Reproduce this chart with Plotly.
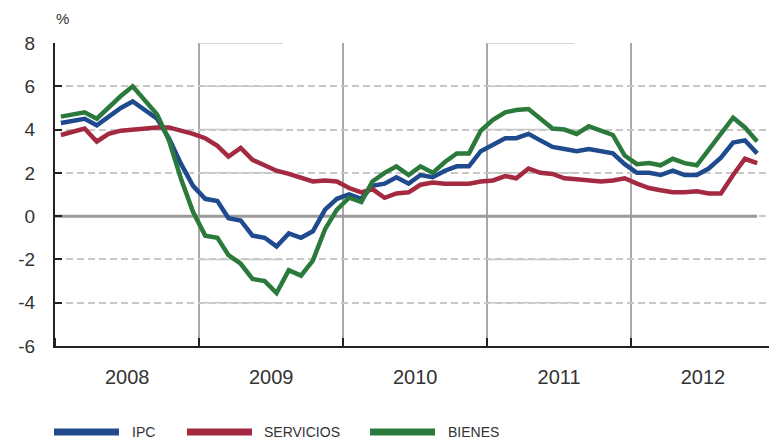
import pandas as pd
import plotly.graph_objects as go

# monthly observations, Jan 2008 - Nov 2012 (plotted mid-month)
months = pd.date_range("2008-01-01", periods=59, freq="MS") + pd.Timedelta(days=15)

ipc = [
    4.3, 4.4, 4.5, 4.2, 4.6, 5.0, 5.3, 4.9, 4.5, 3.6, 2.4, 1.4,
    0.8, 0.7, -0.1, -0.2, -0.9, -1.0, -1.4, -0.8, -1.0, -0.7, 0.3, 0.8,
    1.0, 0.8, 1.4, 1.5, 1.8, 1.5, 1.9, 1.8, 2.1, 2.3, 2.3, 3.0,
    3.3, 3.6, 3.6, 3.8, 3.5, 3.2, 3.1, 3.0, 3.1, 3.0, 2.9, 2.4,
    2.0, 2.0, 1.9, 2.1, 1.9, 1.9, 2.2, 2.7, 3.4, 3.5, 2.9,
]
servicios = [
    3.75, 3.9, 4.05, 3.45, 3.8, 3.95, 4.0, 4.05, 4.1, 4.1, 3.95, 3.8,
    3.6, 3.25, 2.75, 3.15, 2.6, 2.35, 2.1, 1.95, 1.75, 1.6, 1.65, 1.6,
    1.3, 1.1, 1.25, 0.85, 1.05, 1.1, 1.45, 1.55, 1.5, 1.5, 1.5, 1.6,
    1.65, 1.85, 1.75, 2.2, 2.0, 1.95, 1.75, 1.7, 1.65, 1.6, 1.65, 1.75,
    1.5, 1.3, 1.2, 1.1, 1.1, 1.15, 1.05, 1.05, 1.9, 2.65, 2.45,
]
bienes = [
    4.6, 4.7, 4.8, 4.5, 5.05, 5.55, 6.0, 5.35, 4.7, 3.5, 1.7, 0.2,
    -0.9, -1.0, -1.8, -2.2, -2.9, -3.0, -3.55, -2.5, -2.75, -2.05, -0.6, 0.3,
    0.85, 0.65, 1.6, 2.0, 2.3, 1.9, 2.3, 2.0, 2.5, 2.9, 2.9, 3.95,
    4.45, 4.8, 4.9, 4.95, 4.5, 4.05, 4.0, 3.8, 4.15, 3.95, 3.75, 2.8,
    2.4, 2.45, 2.35, 2.65, 2.45, 2.35, 3.05, 3.8, 4.55, 4.1, 3.45,
]

series = [
    ("IPC", ipc, "#1F4A8D"),
    ("SERVICIOS", servicios, "#A32A40"),
    ("BIENES", bienes, "#2B7A3B"),
]
y_ticks = [-6, -4, -2, 0, 2, 4, 6, 8]

GRID = "#c8c8c8"
AXIS = "#222222"
FONT = "Liberation Sans, Arial, sans-serif"

fig = go.Figure()
for name, values, color in series:
    fig.add_trace(
        go.Scatter(
            x=months,
            y=values,
            mode="lines",
            name=name,
            line={"color": color, "width": 4.5},
        )
    )

shapes = []
# zero line, stops at the last observation
shapes.append(
    {
        "type": "line", "xref": "x", "yref": "y", "layer": "between",
        "x0": "2008-01-01", "x1": months[-1], "y0": 0, "y1": 0,
        "line": {"color": "#9a9a9a", "width": 3},
    }
)
# stretches where the grid is drawn solid in the original
for start, end in [("2009-01-01", "2009-08-01"), ("2011-01-01", "2011-08-10")]:
    for yv in [8, 6, 4, 2, -2, -4]:
        shapes.append(
            {
                "type": "line", "xref": "x", "yref": "y", "layer": "between",
                "x0": start, "x1": end, "y0": yv, "y1": yv,
                "line": {"color": GRID, "width": 1.5},
            }
        )

# hand-made legend below the plot
annotations = []
legend_pos = [(54, 130), (187, 262), (370, 446)]
for (name, _, color), (lx, tx) in zip(series, legend_pos):
    x0 = (lx - 55) / 714
    x1 = (lx + 65 - 55) / 714
    shapes.append(
        {
            "type": "line", "xref": "paper", "yref": "paper",
            "x0": x0, "x1": x1, "y0": -0.284, "y1": -0.284,
            "line": {"color": color, "width": 7},
        }
    )
    annotations.append(
        {
            "text": name, "xref": "paper", "yref": "paper",
            "x": (tx - 55) / 714, "y": -0.284, "xanchor": "left", "yanchor": "middle",
            "showarrow": False,
            "font": {"family": "Liberation Sans Narrow, Arial Narrow, " + FONT, "size": 14, "color": "#333"},
        }
    )

annotations.append(
    {
        "text": "%", "xref": "paper", "yref": "paper", "x": 0.011, "y": 1.0825,
        "xanchor": "center", "yanchor": "middle", "showarrow": False,
        "font": {"family": FONT, "size": 15, "color": "#333"},
    }
)

fig.update_layout(
    width=769,
    height=442,
    margin={"l": 55, "r": 0, "t": 43, "b": 96},
    paper_bgcolor="white",
    plot_bgcolor="white",
    showlegend=False,
    font={"family": FONT, "color": AXIS},
    shapes=shapes,
    annotations=annotations,
    xaxis={
        "type": "date",
        "range": ["2008-01-01", "2012-12-16"],
        "tick0": "2008-01-01",
        "dtick": "M12",
        "tickformat": "%Y",
        "ticklabelmode": "period",
        "showgrid": True,
        "gridcolor": "#a8a8a8",
        "gridwidth": 1.5,
        "ticks": "inside",
        "ticklen": 8,
        "tickwidth": 2,
        "tickcolor": AXIS,
        "showline": True,
        "linecolor": AXIS,
        "linewidth": 2,
        "ticklabelstandoff": 12,
        "tickfont": {"size": 20, "color": "#333"},
        "fixedrange": True,
    },
    yaxis={
        "range": [-6, 8],
        "tickvals": y_ticks,
        "ticktext": [str(v) for v in y_ticks],
        "showgrid": True,
        "gridcolor": GRID,
        "gridwidth": 1.5,
        "griddash": "7px,4px",
        "zeroline": False,
        "ticks": "inside",
        "ticklen": 7,
        "tickwidth": 2,
        "tickcolor": AXIS,
        "showline": True,
        "linecolor": AXIS,
        "linewidth": 2,
        "ticklabelstandoff": 14,
        "tickfont": {"size": 19, "color": "#333"},
        "fixedrange": True,
    },
)

# drop the page's default body margin so the figure sits at the window corner
fig.write_html(
    "out.html",
    config={"displayModeBar": False},
    post_script="document.body.style.margin='0px';",
)
